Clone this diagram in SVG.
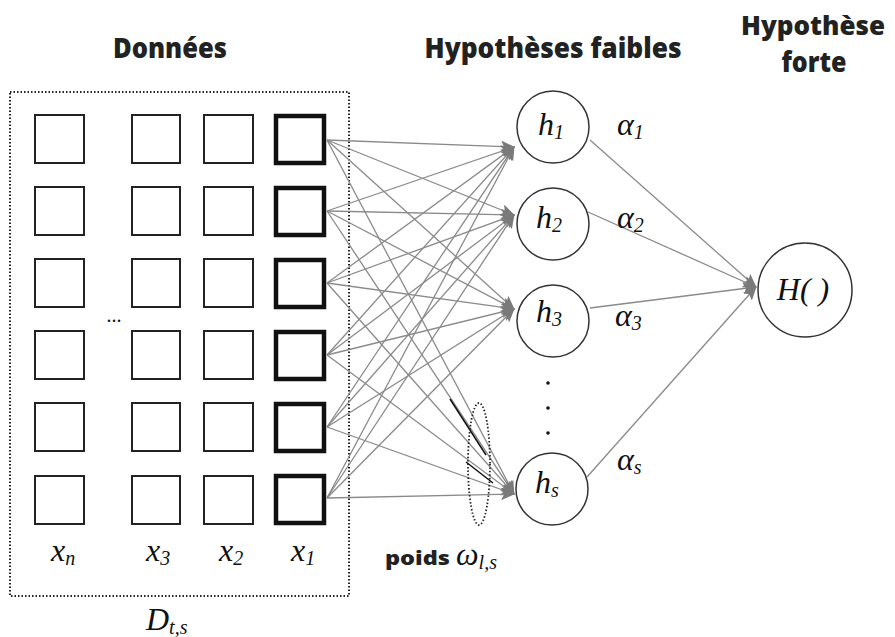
<svg xmlns="http://www.w3.org/2000/svg" width="895" height="637" viewBox="0 0 895 637">
<defs>
<marker id="ah" markerUnits="userSpaceOnUse" markerWidth="14" markerHeight="12" refX="13" refY="6" orient="auto">
<path d="M0,0 L14,6 L0,12 L3,6 z" fill="#7a7a7a"/>
</marker>
<style>
.sq{fill:#fff;stroke:#222;stroke-width:2}
.sq1{fill:#fff;stroke:#111;stroke-width:4.5}
.c{fill:#fff;stroke:#333;stroke-width:1.5}
.w{stroke:#8a8a8a;stroke-width:1.3;fill:none;marker-end:url(#ah)}
.title{font-family:"Open Sans","Liberation Sans",sans-serif;font-weight:800;font-size:29px;fill:#222}
.m{font-family:"Liberation Serif",serif;font-style:italic;fill:#111;font-size:32px}
.s{font-size:20px}
</style>
</defs>
<rect width="895" height="637" fill="#fff"/>
<text class="title" x="170" y="58" text-anchor="middle" textLength="114" lengthAdjust="spacingAndGlyphs">Données</text>
<text class="title" x="553" y="58" text-anchor="middle" textLength="257" lengthAdjust="spacingAndGlyphs">Hypothèses faibles</text>
<text class="title" style="font-size:27px" x="813" y="35" text-anchor="middle" textLength="144" lengthAdjust="spacingAndGlyphs">Hypothèse</text>
<text class="title" x="814" y="72" text-anchor="middle" textLength="65" lengthAdjust="spacingAndGlyphs">forte</text>

<g id="data">
<rect x="10" y="92" width="339" height="504" fill="none" stroke="#222" stroke-width="2" stroke-dasharray="1.5 2"/>
<g id="col-xn"><rect class="sq" x="35" y="115" width="49" height="48"/><rect class="sq" x="35" y="187" width="49" height="48"/><rect class="sq" x="35" y="259" width="49" height="48"/><rect class="sq" x="35" y="331" width="49" height="48"/><rect class="sq" x="35" y="403" width="49" height="48"/><rect class="sq" x="35" y="476" width="49" height="48"/></g>
<g id="col-x3"><rect class="sq" x="132" y="115" width="48" height="48"/><rect class="sq" x="132" y="187" width="48" height="48"/><rect class="sq" x="132" y="259" width="48" height="48"/><rect class="sq" x="132" y="331" width="48" height="48"/><rect class="sq" x="132" y="403" width="48" height="48"/><rect class="sq" x="132" y="476" width="48" height="48"/></g>
<g id="col-x2"><rect class="sq" x="204" y="115" width="49" height="48"/><rect class="sq" x="204" y="187" width="49" height="48"/><rect class="sq" x="204" y="259" width="49" height="48"/><rect class="sq" x="204" y="331" width="49" height="48"/><rect class="sq" x="204" y="403" width="49" height="48"/><rect class="sq" x="204" y="476" width="49" height="48"/></g>
<g id="col-x1"><rect class="sq1" x="276" y="116" width="48" height="47"/><rect class="sq1" x="276" y="188" width="48" height="47"/><rect class="sq1" x="276" y="260" width="48" height="47"/><rect class="sq1" x="276" y="332" width="48" height="47"/><rect class="sq1" x="276" y="404" width="48" height="47"/><rect class="sq1" x="276" y="476" width="48" height="47"/></g>
<text x="114" y="322" font-family="Liberation Serif,serif" font-size="20" text-anchor="middle" fill="#111">...</text>
<text class="m" x="51" y="561">x<tspan class="s" dy="4">n</tspan></text>
<text class="m" x="146" y="561">x<tspan class="s" dy="4">3</tspan></text>
<text class="m" x="219" y="561">x<tspan class="s" dy="4">2</tspan></text>
<text class="m" x="291" y="561">x<tspan class="s" dy="4">1</tspan></text>
<text class="m" x="146" y="630">D<tspan class="s" dy="4">t,s</tspan></text>
</g>

<g id="connectors">
<g id="in-h1"><line class="w" x1="327" y1="140" x2="514" y2="147"/><line class="w" x1="327" y1="211" x2="514" y2="147"/><line class="w" x1="327" y1="283" x2="514" y2="147"/><line class="w" x1="327" y1="355" x2="514" y2="147"/><line class="w" x1="327" y1="427" x2="514" y2="147"/><line class="w" x1="327" y1="498" x2="514" y2="147"/></g>
<g id="in-h2"><line class="w" x1="327" y1="140" x2="514" y2="215"/><line class="w" x1="327" y1="211" x2="514" y2="215"/><line class="w" x1="327" y1="283" x2="514" y2="215"/><line class="w" x1="327" y1="355" x2="514" y2="215"/><line class="w" x1="327" y1="427" x2="514" y2="215"/><line class="w" x1="327" y1="498" x2="514" y2="215"/></g>
<g id="in-h3"><line class="w" x1="327" y1="140" x2="514" y2="309"/><line class="w" x1="327" y1="211" x2="514" y2="309"/><line class="w" x1="327" y1="283" x2="514" y2="309"/><line class="w" x1="327" y1="355" x2="514" y2="309"/><line class="w" x1="327" y1="427" x2="514" y2="309"/><line class="w" x1="327" y1="498" x2="514" y2="309"/></g>
<g id="in-hs"><line class="w" x1="327" y1="140" x2="514" y2="494"/><line class="w" x1="327" y1="211" x2="514" y2="494"/><line class="w" x1="327" y1="283" x2="514" y2="494"/><line class="w" x1="327" y1="355" x2="514" y2="494"/><line class="w" x1="327" y1="427" x2="514" y2="494"/><line class="w" x1="327" y1="498" x2="514" y2="494"/></g>
<g id="out"><line class="w" x1="590" y1="140" x2="756" y2="287"/><line class="w" x1="588" y1="212" x2="756" y2="287"/><line class="w" x1="590" y1="308" x2="756" y2="287"/><line class="w" x1="587" y1="477" x2="756" y2="287"/></g>
<line x1="450" y1="399" x2="486" y2="455" stroke="#111" stroke-width="1.5"/>
<line x1="466" y1="462" x2="493" y2="483" stroke="#111" stroke-width="1.5"/>
<ellipse cx="479" cy="464" rx="11" ry="61" fill="none" stroke="#222" stroke-width="1.8" stroke-dasharray="1.5 2"/>
</g>

<g id="h1"><circle class="c" cx="553" cy="127" r="36"/><text class="m" x="538" y="135">h<tspan class="s" dy="4">1</tspan></text></g>
<g id="h2"><circle class="c" cx="553" cy="224" r="36"/><text class="m" x="536" y="228">h<tspan class="s" dy="4">2</tspan></text></g>
<g id="h3"><circle class="c" cx="553" cy="321" r="36"/><text class="m" x="536" y="322">h<tspan class="s" dy="4">3</tspan></text></g>
<g id="dots" fill="#111"><circle cx="548" cy="383" r="1.8"/><circle cx="548" cy="408" r="1.8"/><circle cx="548" cy="433" r="1.8"/></g>
<g id="hs"><circle class="c" cx="552" cy="489" r="36"/><text class="m" x="535" y="493">h<tspan class="s" dy="4">s</tspan></text></g>
<g id="H"><circle class="c" cx="805" cy="290" r="47"/><text class="m" font-size="30" x="803" y="300" text-anchor="middle">H( )</text></g>

<text class="m" x="617" y="135">α<tspan class="s" dy="4">1</tspan></text>
<text class="m" x="617" y="228">α<tspan class="s" dy="4">2</tspan></text>
<text class="m" x="615" y="326">α<tspan class="s" dy="4">3</tspan></text>
<text class="m" x="617" y="470">α<tspan class="s" dy="4">s</tspan></text>

<text x="385" y="565" font-family="'Open Sans','Liberation Sans',sans-serif" font-weight="800" font-size="20" fill="#222" textLength="65" lengthAdjust="spacingAndGlyphs">poids</text>
<text class="m" font-size="28" x="456" y="565">ω<tspan class="s" dy="4">l,s</tspan></text>
</svg>
